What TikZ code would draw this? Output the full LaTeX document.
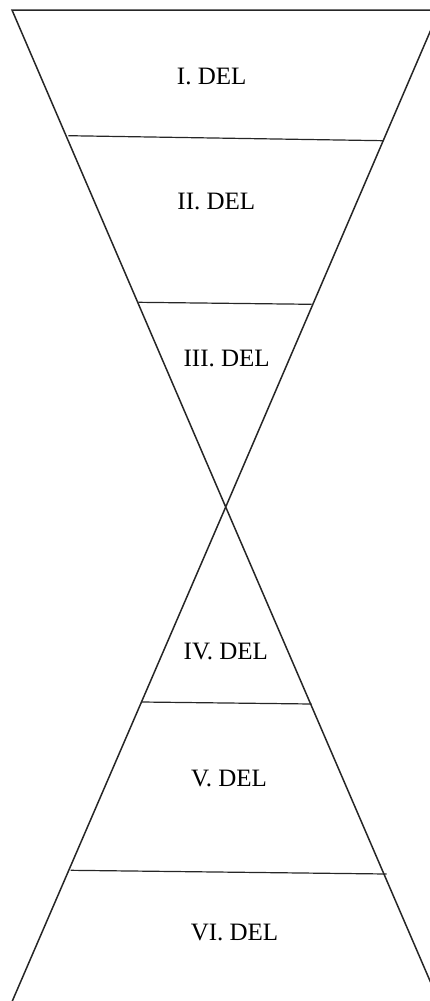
\documentclass[tikz,border=0pt]{standalone}
\usepackage{fontspec}
\setmainfont{Liberation Serif}
\begin{document}
\begin{tikzpicture}[x=1pt,y=-1pt,
  edge/.style={draw=black!85,line width=1.5pt},
  sep/.style={draw=black!85,line width=1.2pt},
  lbl/.style={font=\fontsize{25}{30}\selectfont,inner sep=0pt}]
\useasboundingbox (0,0) rectangle (430,1001);
\clip (0,0) rectangle (430,1001);
\coordinate (TL) at (12,10);
\coordinate (TR) at (439.4,10);
\coordinate (C) at (225.7,507);
\coordinate (BL) at (8,1011);
\coordinate (BR) at (443,1011);
\draw[edge,line join=miter] (C) -- (TL) -- (TR) -- (C) -- (BL);
\draw[edge] (C) -- (BR);
\coordinate (s1l) at (68.3,135.7);
\coordinate (s1r) at (383.3,140.7);
\coordinate (s2l) at (138.3,302.3);
\coordinate (s2r) at (311.7,304.3);
\coordinate (s3l) at (141.7,702);
\coordinate (s3r) at (311.7,704);
\coordinate (s4l) at (70.7,870.3);
\coordinate (s4r) at (386.7,874);
\draw[sep] (s1l) -- (s1r);
\draw[sep] (s2l) -- (s2r);
\draw[sep] (s3l) -- (s3r);
\draw[sep] (s4l) -- (s4r);
\node[lbl] (d1) at (211.7,76) {I. DEL};
\node[lbl] (d2) at (216.3,201) {II. DEL};
\node[lbl] (d3) at (226.7,358) {III. DEL};
\node[lbl] (d4) at (225.8,651) {IV. DEL};
\node[lbl] (d5) at (229,778) {V. DEL};
\node[lbl] (d6) at (234.5,932) {VI. DEL};
\end{tikzpicture}
\end{document}
